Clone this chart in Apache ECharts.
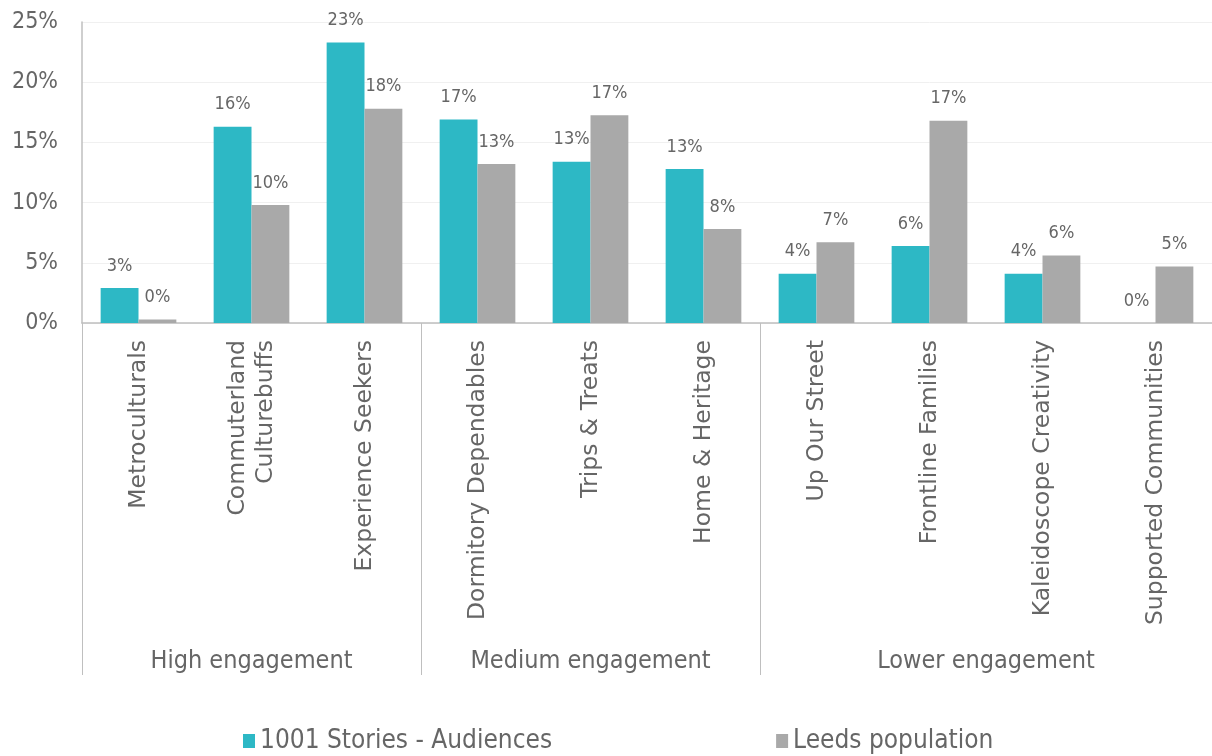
<!DOCTYPE html>
<html>
<head>
<meta charset="utf-8">
<title>Audience segments vs Leeds population</title>
<script src="https://cdn.jsdelivr.net/npm/echarts@6/dist/echarts.min.js"></script>
<style>
  html, body { margin: 0; padding: 0; background: #ffffff; }
  #chart { width: 1212px; height: 756px; }
</style>
</head>
<body>
<div id="chart"></div>
<script>
// Audience Spectrum segments, in display order
const categories = [
  'Metroculturals',
  'Commuterland\nCulturebuffs',
  'Experience Seekers',
  'Dormitory Dependables',
  'Trips & Treats',
  'Home & Heritage',
  'Up Our Street',
  'Frontline Families',
  'Kaleidoscope Creativity',
  'Supported Communities'
];

// Engagement bands and how many segments each spans
const groupNames = ['High engagement', 'Medium engagement', 'Lower engagement'];
const groupSizes = [3, 3, 4];

// Share of each segment (%)
const audiences = [2.9, 16.3, 23.3, 16.9, 13.4, 12.8, 4.1, 6.4, 4.1, 0];
const leedsPopulation = [0.3, 9.8, 17.8, 13.2, 17.25, 7.8, 6.7, 16.8, 5.6, 4.7];

const seriesNames = ['1001 Stories - Audiences', 'Leeds population'];

// Value axis ticks
const yTicks = { min: 0, max: 25, step: 5 };

// Band boundaries and band centres in category units
const bounds = [0];
groupSizes.forEach(s => bounds.push(bounds[bounds.length - 1] + s));
const centres = groupSizes.map((s, i) => bounds[i] + s / 2);

const textColor = '#666666';
const lineColor = '#bfbfbf';
const condensed = 'DejaVu Sans Condensed, DejaVu Sans, sans-serif';

const chart = echarts.init(document.getElementById('chart'), null, { renderer: 'canvas' });

const pctLabel = {
  show: true,
  position: 'top',
  distance: 13,
  fontFamily: condensed,
  fontSize: 18,
  color: textColor,
  formatter: p => Math.round(p.value) + '%'
};

chart.setOption({
  animation: false,
  backgroundColor: '#ffffff',
  grid: { left: 82, right: 0, top: 22, bottom: 433, containLabel: false },
  legend: {
    data: seriesNames,
    left: 238,
    top: 723,
    icon: 'rect',
    itemWidth: 12,
    itemHeight: 14,
    itemGap: 224,
    textStyle: { fontFamily: condensed, fontSize: 26, color: textColor }
  },
  xAxis: [
    {
      type: 'category',
      data: categories,
      position: 'bottom',
      axisLine: { show: true, lineStyle: { color: lineColor, width: 1.5 } },
      axisTick: { show: false },
      axisLabel: {
        rotate: 90,
        interval: 0,
        margin: 17,
        fontFamily: 'DejaVu Sans, sans-serif',
        fontSize: 23.5,
        lineHeight: 28,
        color: textColor
      },
      splitLine: { show: false }
    },
    {
      // engagement bands: separators and band names under the segment labels
      type: 'value',
      min: 0,
      max: categories.length,
      position: 'bottom',
      axisLine: { show: false },
      splitLine: { show: false },
      axisTick: {
        show: true,
        customValues: bounds.slice(0, -1),
        length: 352,
        lineStyle: { color: lineColor, width: 1 }
      },
      axisLabel: {
        show: true,
        customValues: centres,
        margin: 326,
        fontFamily: condensed,
        fontSize: 25,
        color: textColor,
        formatter: v => {
          const i = centres.indexOf(v);
          return i >= 0 ? groupNames[i] : '';
        }
      }
    }
  ],
  yAxis: {
    type: 'value',
    min: yTicks.min,
    max: yTicks.max,
    interval: yTicks.step,
    axisLine: { show: true, lineStyle: { color: lineColor, width: 1.5 } },
    axisTick: { show: false },
    axisLabel: {
      formatter: '{value}%',
      margin: 24,
      fontFamily: condensed,
      fontSize: 23,
      color: textColor
    },
    splitLine: { show: true, lineStyle: { color: '#f0f0f0', width: 1 } }
  },
  series: [
    {
      name: seriesNames[0],
      type: 'bar',
      xAxisIndex: 0,
      data: audiences,
      barGap: '0%',
      barCategoryGap: '33%',
      itemStyle: { color: '#2db8c5' },
      label: pctLabel
    },
    {
      name: seriesNames[1],
      type: 'bar',
      xAxisIndex: 0,
      data: leedsPopulation,
      barGap: '0%',
      barCategoryGap: '33%',
      itemStyle: { color: '#a9a9a9' },
      label: pctLabel
    }
  ]
});
</script>
</body>
</html>
